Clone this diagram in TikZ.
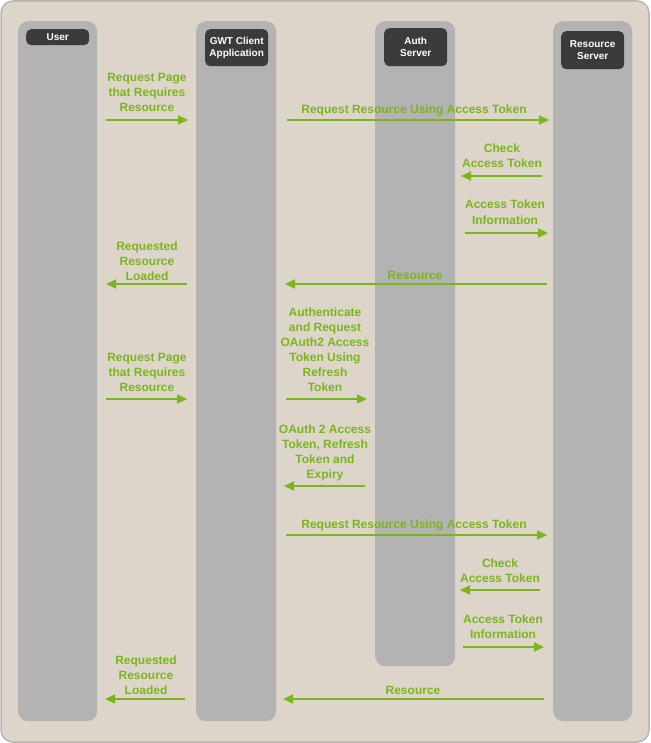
\documentclass[tikz,border=0pt]{standalone}
\usepackage{fontspec}
\setmainfont{Liberation Sans}
\usetikzlibrary{arrows.meta}
\definecolor{bg}{HTML}{DED5CA}
\definecolor{frame}{HTML}{B5B5B5}
\definecolor{lanec}{HTML}{B3B3B3}
\definecolor{headc}{HTML}{3B3B3B}
\definecolor{grn}{HTML}{7AB51D}
\tikzset{
  lane/.style={fill=lanec, draw=none, rounded corners=10pt, inner sep=0pt, anchor=north west},
  head/.style={fill=headc, text=white, rounded corners=5pt, inner sep=0pt, anchor=north west, align=center, font=\fontsize{10}{12}\selectfont\bfseries},
  lbl/.style={text=grn, align=center, inner sep=0pt, anchor=base, font=\fontsize{12}{15}\selectfont\bfseries},
  msg/.style={draw=grn, line width=2pt, -{Triangle[length=10pt,width=9pt]}},
}
\begin{document}
\begin{tikzpicture}[x=1pt,y=-1pt]
\useasboundingbox (0,0) rectangle (650,743);
\draw[fill=bg, draw=frame, line width=1.5pt, rounded corners=12pt] (1,1) rectangle (649,742);
% lanes
\node[lane, minimum width=79pt, minimum height=700pt] (userlane) at (18,21) {};
\node[lane, minimum width=80pt, minimum height=700pt] (gwtlane) at (196,21) {};
\node[lane, minimum width=80pt, minimum height=645pt] (authlane) at (375,21) {};
\node[lane, minimum width=79pt, minimum height=700pt] (reslane) at (553,21) {};
% headers
\node[head, minimum width=63pt, minimum height=16pt] (user) at (26,29) {User};
\node[head, minimum width=63pt, minimum height=37pt] (gwt) at (205,29) {GWT Client\\Application};
\node[head, minimum width=63pt, minimum height=38pt] (auth) at (384,28) {Auth\\Server};
\node[head, minimum width=63pt, minimum height=38pt] (res) at (561,31) {Resource\\Server};
% arrow end points
\coordinate (a1s) at (106,120); \coordinate (a1e) at (188,120);
\coordinate (a2s) at (287,120); \coordinate (a2e) at (549,120);
\coordinate (a3s) at (542,176); \coordinate (a3e) at (461,176);
\coordinate (a4s) at (465,233); \coordinate (a4e) at (548,233);
\coordinate (a5s) at (187,284); \coordinate (a5e) at (106,284);
\coordinate (a6s) at (547,284); \coordinate (a6e) at (285,284);
\coordinate (a7s) at (286,399); \coordinate (a7e) at (367,399);
\coordinate (a8s) at (106,399); \coordinate (a8e) at (187,399);
\coordinate (a9s) at (365,486); \coordinate (a9e) at (284,486);
\coordinate (a10s) at (286,535); \coordinate (a10e) at (547,535);
\coordinate (a11s) at (540,590); \coordinate (a11e) at (460,590);
\coordinate (a12s) at (463,647); \coordinate (a12e) at (544,647);
\coordinate (a13s) at (185,699); \coordinate (a13e) at (105,699);
\coordinate (a14s) at (544,699); \coordinate (a14e) at (283,699);
% arrows
\foreach \i in {1,...,14} { \draw[msg] (a\i s) -- (a\i e); }
% labels (anchor = baseline of last line)
\node[lbl] (l1) at (147,112) {Request Page\\that Requires\\Resource};
\node[lbl] (l2) at (414,114) {Request Resource Using Access Token};
\node[lbl] (l3) at (502,168) {Check\\Access Token};
\node[lbl] (l4) at (505,224) {Access Token\\Information};
\node[lbl] (l5) at (147,280) {Requested\\Resource\\Loaded};
\node[lbl] (l6) at (415,279) {Resource};
\node[lbl] (l7) at (325,391) {Authenticate\\and Request\\OAuth2 Access\\Token Using\\Refresh\\Token};
\node[lbl] (l8) at (147,391) {Request Page\\that Requires\\Resource};
\node[lbl] (l9) at (325,478) {OAuth 2 Access\\Token, Refresh\\Token and\\Expiry};
\node[lbl] (l10) at (414,528) {Request Resource Using Access Token};
\node[lbl] (l11) at (500,582) {Check\\Access Token};
\node[lbl] (l12) at (503,638) {Access Token\\Information};
\node[lbl] (l13) at (146,694) {Requested\\Resource\\Loaded};
\node[lbl] (l14) at (413,694) {Resource};
\end{tikzpicture}
\end{document}
